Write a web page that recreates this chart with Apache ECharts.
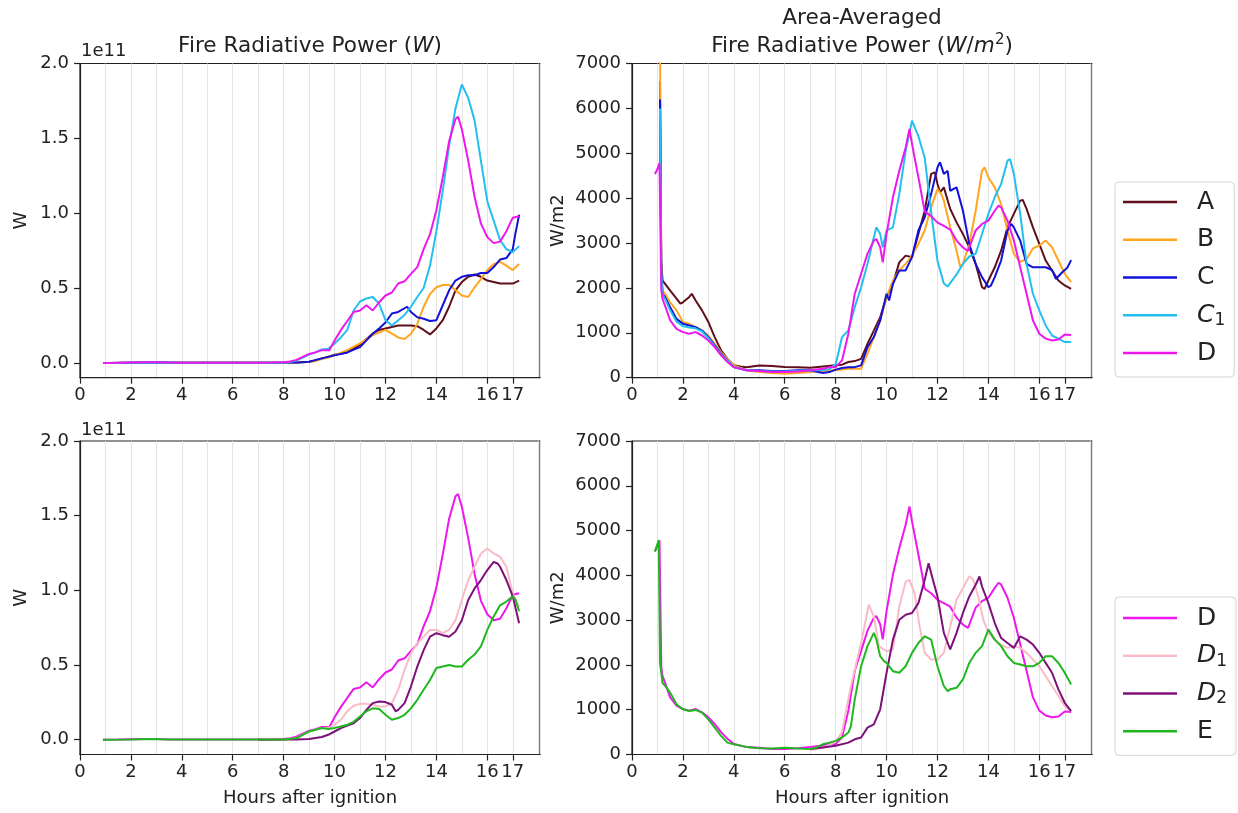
<!DOCTYPE html>
<html><head><meta charset="utf-8">
<script src="https://cdn.jsdelivr.net/npm/echarts@6/dist/echarts.min.js"></script>
<style>html,body{margin:0;padding:0;background:#fff}#c{width:1238px;height:813px}</style>
</head><body><div id="c"></div>
<script>
// ---------- data: [hours after ignition, value] ----------
const xTicks = [0, 2, 4, 6, 8, 10, 12, 14, 16, 17];
const yTicksW = [0, 0.5, 1, 1.5, 2];   // in units of 1e11 W
const topLegend = ['A', 'B', 'C', 'C1', 'D'];
const bottomLegend = ['D', 'D1', 'D2', 'E'];

// Fire Radiative Power (1e11 W)
const A_W = [[1.1,0],[2,0.001],[3,0.002],[4,0.001],[5,0.001],[6,0.001],[7,0.001],[8,0.002],[8.5,0.003],[8.75,0.005],[9,0.008],[9.25,0.015],[9.5,0.03],[9.75,0.04],[10,0.055],[10.5,0.07],[11,0.12],[11.25,0.16],[11.5,0.195],[11.75,0.22],[12,0.23],[12.25,0.24],[12.5,0.25],[13,0.25],[13.25,0.245],[13.5,0.22],[13.75,0.19],[14,0.23],[14.25,0.285],[14.5,0.375],[14.75,0.485],[15,0.54],[15.25,0.575],[15.5,0.59],[15.75,0.575],[16,0.55],[16.25,0.54],[16.5,0.53],[16.75,0.53],[17,0.53],[17.25,0.55]];
const B_W = [[1.1,0],[2,0.001],[3,0.002],[4,0.001],[5,0.001],[6,0.001],[7,0.001],[8,0.002],[8.5,0.003],[9,0.006],[9.25,0.012],[9.5,0.025],[9.75,0.035],[10,0.05],[10.5,0.085],[11,0.13],[11.5,0.185],[12,0.22],[12.25,0.195],[12.5,0.17],[12.75,0.16],[13,0.195],[13.25,0.26],[13.5,0.375],[13.75,0.46],[14,0.505],[14.25,0.52],[14.5,0.52],[14.75,0.485],[15,0.45],[15.25,0.44],[15.5,0.505],[15.75,0.56],[16,0.62],[16.25,0.66],[16.5,0.675],[16.75,0.65],[17,0.62],[17.25,0.66]];
const C_W = [[1.1,0],[2,0.001],[3,0.002],[4,0.001],[5,0.001],[6,0.001],[7,0.001],[8,0.002],[8.5,0.003],[9,0.007],[9.5,0.03],[10,0.05],[10.5,0.07],[11,0.105],[11.25,0.15],[11.5,0.195],[11.75,0.23],[12,0.27],[12.25,0.33],[12.5,0.34],[12.85,0.375],[13,0.34],[13.25,0.305],[13.5,0.295],[13.75,0.28],[14,0.285],[14.25,0.385],[14.5,0.485],[14.75,0.55],[15,0.575],[15.25,0.585],[15.5,0.585],[15.75,0.6],[16,0.6],[16.25,0.64],[16.5,0.69],[16.75,0.7],[17,0.76],[17.1,0.86],[17.25,0.99]];
const C1_W = [[1.1,0],[2,0.001],[3,0.002],[4,0.001],[5,0.001],[6,0.001],[7,0.001],[8,0.003],[8.25,0.005],[8.5,0.015],[8.75,0.035],[9,0.055],[9.25,0.07],[9.5,0.09],[9.75,0.095],[10,0.13],[10.25,0.17],[10.5,0.22],[10.75,0.35],[11,0.41],[11.25,0.43],[11.5,0.44],[11.75,0.395],[12,0.285],[12.25,0.25],[12.5,0.285],[12.75,0.32],[13,0.375],[13.25,0.44],[13.5,0.5],[13.75,0.65],[14,0.88],[14.25,1.15],[14.5,1.45],[14.75,1.7],[15,1.86],[15.25,1.77],[15.5,1.62],[15.75,1.35],[16,1.08],[16.25,0.95],[16.5,0.82],[16.75,0.76],[17,0.74],[17.25,0.78]];
const D_W = [[0.9,0],[1.5,0.001],[2.5,0.004],[3,0.004],[3.5,0.002],[4,0.001],[5,0.001],[6,0.001],[7,0.001],[7.5,0.002],[8,0.005],[8.25,0.01],[8.5,0.02],[8.75,0.04],[9,0.06],[9.25,0.07],[9.5,0.085],[9.8,0.085],[10,0.15],[10.25,0.22],[10.5,0.28],[10.75,0.34],[11,0.35],[11.25,0.385],[11.5,0.35],[11.75,0.405],[12,0.45],[12.25,0.47],[12.5,0.53],[12.75,0.545],[13,0.595],[13.25,0.64],[13.5,0.76],[13.75,0.86],[14,1.02],[14.25,1.24],[14.5,1.48],[14.75,1.63],[14.85,1.645],[15,1.56],[15.25,1.35],[15.5,1.11],[15.75,0.93],[16,0.84],[16.25,0.8],[16.5,0.81],[16.75,0.88],[17,0.97],[17.25,0.98]];
const D1_W = [[7,0],[8,0.002],[8.5,0.01],[9,0.055],[9.25,0.067],[9.5,0.078],[9.75,0.078],[10,0.1],[10.25,0.134],[10.5,0.19],[10.75,0.227],[11,0.24],[11.25,0.24],[11.5,0.234],[11.75,0.223],[12,0.223],[12.25,0.245],[12.5,0.334],[12.75,0.468],[13,0.579],[13.25,0.646],[13.5,0.69],[13.75,0.735],[14,0.735],[14.25,0.713],[14.5,0.735],[14.75,0.8],[15,0.935],[15.25,1.069],[15.5,1.158],[15.75,1.247],[16,1.28],[16.25,1.247],[16.5,1.225],[16.75,1.158],[17,0.98],[17.25,0.89]];
const D2_W = [[7,0],[8,0.001],[8.5,0.002],[9,0.005],[9.5,0.018],[9.75,0.033],[10,0.055],[10.25,0.078],[10.5,0.094],[10.75,0.11],[11,0.145],[11.25,0.2],[11.5,0.245],[11.75,0.256],[12,0.252],[12.25,0.234],[12.4,0.19],[12.5,0.2],[12.75,0.245],[13,0.356],[13.25,0.49],[13.5,0.6],[13.75,0.69],[14,0.713],[14.25,0.7],[14.5,0.69],[14.75,0.724],[15,0.8],[15.25,0.935],[15.5,1.013],[15.75,1.069],[16,1.136],[16.25,1.19],[16.4,1.18],[16.5,1.158],[16.75,1.069],[17,0.96],[17.25,0.78]];
const E_W = [[0.9,0],[2,0.002],[2.75,0.004],[3.5,0.002],[4,0.001],[5,0.001],[6,0.001],[7,0.001],[8,0.002],[8.5,0.01],[8.75,0.033],[9,0.055],[9.25,0.067],[9.5,0.078],[9.75,0.071],[10,0.078],[10.25,0.089],[10.5,0.1],[10.75,0.12],[11,0.155],[11.25,0.19],[11.5,0.21],[11.75,0.205],[12,0.167],[12.25,0.134],[12.5,0.145],[12.75,0.167],[13,0.21],[13.25,0.267],[13.5,0.334],[13.75,0.4],[14,0.48],[14.25,0.49],[14.5,0.5],[14.75,0.49],[15,0.49],[15.25,0.535],[15.5,0.57],[15.75,0.625],[16,0.735],[16.25,0.825],[16.5,0.9],[16.75,0.925],[17,0.96],[17.1,0.94],[17.25,0.86]];

// Area-averaged Fire Radiative Power (W/m2)
const A_M = [[1.1,6600],[1.15,2600],[1.2,2165],[1.3,2090],[1.5,1940],[1.75,1760],[1.9,1650],[2,1680],[2.25,1800],[2.35,1870],[2.5,1720],[2.75,1500],[3,1240],[3.25,905],[3.5,610],[3.75,420],[4,275],[4.25,250],[4.5,235],[5,270],[5.5,260],[6,240],[6.5,235],[7,220],[7.5,250],[8,275],[8.25,290],[8.5,350],[8.75,370],[9,420],[9.25,755],[9.5,1050],[9.75,1350],[10,1795],[10.25,2090],[10.5,2570],[10.75,2720],[11,2685],[11.25,3200],[11.5,3720],[11.75,4540],[11.9,4575],[12,4315],[12.1,4130],[12.25,4240],[12.5,3760],[12.75,3460],[13,3200],[13.25,2905],[13.5,2535],[13.75,2015],[13.85,1980],[14,2165],[14.25,2460],[14.5,2830],[14.75,3350],[15,3650],[15.25,3945],[15.35,3960],[15.5,3760],[15.75,3350],[16,2980],[16.25,2610],[16.5,2390],[16.75,2165],[17,2055],[17.25,1980]];
const B_M = [[1.1,7400],[1.15,2500],[1.2,1940],[1.3,1870],[1.5,1680],[1.75,1500],[2,1240],[2.25,1200],[2.5,1125],[2.75,1050],[3,940],[3.25,755],[3.5,570],[3.75,420],[4,275],[4.5,165],[5,125],[5.5,105],[6,90],[6.5,105],[7,125],[7.5,150],[8,165],[8.5,200],[9,200],[9.25,535],[9.5,905],[9.75,1275],[10,1795],[10.25,2165],[10.5,2390],[10.75,2535],[11,2720],[11.25,2980],[11.5,3280],[11.75,3795],[12,4200],[12.15,4090],[12.25,3945],[12.5,3350],[12.75,2830],[12.9,2460],[13,2535],[13.25,2980],[13.5,3720],[13.75,4610],[13.85,4685],[14,4460],[14.25,4240],[14.5,3870],[14.75,3280],[15,2760],[15.25,2580],[15.5,2645],[15.75,2880],[16,2945],[16.25,3055],[16.5,2905],[16.75,2610],[17,2315],[17.25,2130]];
const C_M = [[1.1,6200],[1.15,2400],[1.2,1870],[1.3,1795],[1.5,1570],[1.75,1310],[2,1200],[2.25,1165],[2.5,1125],[2.75,1050],[3,905],[3.25,720],[3.5,535],[3.75,385],[4,235],[4.5,165],[5,165],[5.5,150],[6,150],[6.5,165],[7,165],[7.5,105],[7.75,125],[8,180],[8.25,215],[8.5,235],[8.75,235],[9,275],[9.25,680],[9.5,905],[9.75,1275],[10,1870],[10.1,1720],[10.25,2090],[10.5,2390],[10.75,2390],[11,2685],[11.25,3280],[11.5,3575],[11.75,4090],[12,4685],[12.1,4800],[12.25,4540],[12.4,4610],[12.5,4165],[12.75,4240],[13,3720],[13.25,2980],[13.5,2535],[13.75,2240],[14,2015],[14.1,2055],[14.25,2240],[14.5,2610],[14.75,3280],[14.9,3425],[15,3350],[15.25,3055],[15.5,2535],[15.75,2460],[16,2460],[16.25,2460],[16.5,2400],[16.65,2200],[16.9,2350],[17.1,2450],[17.25,2620]];
const C1_M = [[1.1,6000],[1.15,2300],[1.2,1850],[1.3,1750],[1.5,1500],[1.75,1250],[2,1150],[2.25,1120],[2.5,1100],[2.75,1030],[3,880],[3.25,700],[3.5,520],[3.75,380],[4,240],[4.5,170],[5,150],[5.5,140],[6,140],[6.5,150],[7,160],[7.5,170],[7.75,190],[8,300],[8.1,535],[8.25,905],[8.5,1050],[8.75,1570],[9,2015],[9.25,2535],[9.5,3130],[9.6,3350],[9.75,3200],[9.85,2905],[10,3280],[10.25,3350],[10.5,4090],[10.75,5055],[11,5725],[11.05,5760],[11.25,5380],[11.5,4900],[11.75,3700],[12,2600],[12.25,2100],[12.4,2030],[12.75,2300],[13,2535],[13.25,2700],[13.5,2760],[13.75,3200],[14,3650],[14.25,4020],[14.5,4315],[14.75,4835],[14.85,4870],[15,4540],[15.25,3650],[15.5,2535],[15.75,1870],[16,1500],[16.25,1165],[16.5,940],[16.75,870],[17,795],[17.25,795]];
const D_M = [[0.9,4540],[1.0,4650],[1.08,4780],[1.15,1950],[1.2,1750],[1.3,1600],[1.5,1275],[1.75,1090],[2,1015],[2.25,980],[2.5,1015],[2.75,940],[3,830],[3.25,680],[3.5,500],[3.75,350],[4,235],[4.5,165],[5,150],[5.5,125],[6,125],[6.5,140],[7,165],[7.5,200],[7.75,235],[8,235],[8.25,385],[8.5,980],[8.75,1870],[9,2315],[9.25,2760],[9.5,3055],[9.6,3090],[9.75,2905],[9.85,2570],[10,3200],[10.25,4020],[10.5,4610],[10.75,5130],[10.9,5540],[11,5205],[11.25,4465],[11.5,3700],[11.75,3600],[12,3455],[12.25,3380],[12.5,3300],[12.75,3055],[13,2900],[13.2,2825],[13.5,3280],[13.75,3425],[14,3500],[14.25,3720],[14.4,3835],[14.5,3795],[14.75,3500],[15,3055],[15.25,2460],[15.5,1870],[15.75,1275],[16,980],[16.25,870],[16.5,830],[16.75,850],[17,960],[17.25,950]];
const D1_M = [[7,100],[7.5,150],[8,280],[8.25,500],[8.6,1530],[9,2490],[9.3,3345],[9.5,3085],[9.7,2420],[10,2305],[10.25,2345],[10.5,3300],[10.75,3860],[10.9,3900],[11.1,3600],[11.3,2860],[11.5,2270],[11.75,2120],[12,2120],[12.25,2270],[12.5,2860],[12.75,3455],[13,3715],[13.25,3980],[13.4,3900],[13.6,3530],[13.8,3010],[14,2715],[14.25,2565],[14.5,2455],[14.75,2380],[15,2420],[15.25,2380],[15.5,2270],[15.75,2120],[16,1970],[16.25,1750],[16.5,1530],[16.75,1305],[17,1080],[17.25,970]];
const D2_M = [[7,120],[7.5,155],[8,195],[8.5,265],[8.75,340],[9,380],[9.25,600],[9.5,675],[9.75,1010],[10,1825],[10.25,2565],[10.5,3010],[10.75,3120],[11,3160],[11.25,3380],[11.5,3900],[11.65,4270],[11.75,4050],[12,3530],[12.25,2715],[12.5,2345],[12.75,2715],[13,3160],[13.25,3530],[13.5,3790],[13.65,3975],[13.75,3750],[14,3380],[14.25,2935],[14.5,2600],[14.75,2490],[15,2380],[15.25,2640],[15.5,2565],[15.75,2455],[16,2270],[16.25,2045],[16.5,1825],[16.75,1455],[17,1155],[17.25,970]];
const E_M = [[0.9,4530],[1.05,4790],[1.1,2045],[1.15,1825],[1.2,1600],[1.3,1530],[1.5,1380],[1.75,1120],[2,1010],[2.25,970],[2.5,995],[2.75,935],[3,785],[3.25,600],[3.5,415],[3.75,265],[4,230],[4.5,170],[5,140],[5.5,133],[6,150],[6.5,133],[7,120],[7.25,155],[7.5,230],[7.75,265],[8,305],[8.25,380],[8.5,490],[8.6,640],[8.75,1230],[9,1970],[9.25,2420],[9.5,2715],[9.6,2565],[9.75,2195],[9.9,2085],[10,2045],[10.25,1860],[10.5,1825],[10.75,1970],[11,2270],[11.25,2490],[11.5,2640],[11.75,2565],[12,1970],[12.25,1530],[12.4,1415],[12.5,1455],[12.75,1490],[13,1675],[13.25,2045],[13.5,2270],[13.75,2420],[14,2790],[14.25,2565],[14.5,2420],[14.75,2195],[15,2045],[15.25,2010],[15.5,1970],[15.75,1970],[16,2045],[16.25,2195],[16.5,2195],[16.75,2045],[17,1825],[17.25,1565]];

// ---------- styling ----------
const colors = {A:'#5f0f1a', B:'#ffa51f', C:'#1111d9', C1:'#22bff0', D:'#ee18ee', D1:'#f9bcc6', D2:'#7d1079', E:'#1fb81f'};
const FONT = 'DejaVu Sans';
const INK = '#222';
const XMAX = 18.07;
const grids = [
  {left: 80, top: 63.5, width: 460, height: 314.2},
  {left: 632, top: 63.5, width: 460, height: 314.2},
  {left: 80, top: 441, width: 460, height: 313.5},
  {left: 632, top: 441, width: 460, height: 313.5}
];

function xMain(gi) {
  return {
    type: 'value', gridIndex: gi, min: 0, max: XMAX,
    axisLine: {show: true, onZero: false, lineStyle: {color: INK, width: 1.2}},
    axisTick: {show: true, customValues: xTicks, length: 6, lineStyle: {color: INK, width: 1.2}},
    axisLabel: {customValues: xTicks, margin: 9, color: INK, fontSize: 18, fontFamily: FONT},
    splitLine: {show: false},
    name: gi >= 2 ? 'Hours after ignition' : '', nameLocation: 'middle', nameGap: 35,
    nameTextStyle: {color: INK, fontSize: 18, fontFamily: FONT}
  };
}
function xGridLines(gi) {
  return {
    type: 'value', gridIndex: gi, min: 0, max: XMAX, interval: 1, position: 'bottom',
    axisLine: {show: false}, axisTick: {show: false}, axisLabel: {show: false},
    splitLine: {show: true, lineStyle: {color: '#e4e4e4', width: 1}}
  };
}
function yW(gi) {
  return {
    type: 'value', gridIndex: gi, min: -0.099, max: 2.0,
    axisLine: {show: true, onZero: false, lineStyle: {color: INK, width: 1.2}},
    axisTick: {show: true, customValues: yTicksW, length: 6, lineStyle: {color: INK, width: 1.2}},
    axisLabel: {customValues: yTicksW, margin: 11, color: INK, fontSize: 18, fontFamily: FONT, formatter: v => v.toFixed(1)},
    splitLine: {show: false},
    name: 'W', nameLocation: 'middle', nameGap: 50,
    nameTextStyle: {color: INK, fontSize: 18, fontFamily: FONT}
  };
}
function yM(gi) {
  return {
    type: 'value', gridIndex: gi, min: 0, max: 7000, interval: 1000,
    axisLine: {show: true, lineStyle: {color: INK, width: 1.2}},
    axisTick: {show: true, length: 6, lineStyle: {color: INK, width: 1.2}},
    axisLabel: {margin: 11, color: INK, fontSize: 18, fontFamily: FONT, formatter: v => String(Math.round(v))},
    splitLine: {show: false},
    name: 'W/m2', nameLocation: 'middle', nameGap: 65,
    nameTextStyle: {color: INK, fontSize: 18, fontFamily: FONT}
  };
}
function line(name, data, idx) {
  return {
    name, type: 'line', data, xAxisIndex: idx, yAxisIndex: idx,
    showSymbol: false, symbol: 'none', clip: true, animation: false,
    lineStyle: {width: 2, color: colors[name]}, itemStyle: {color: colors[name]},
    emphasis: {disabled: true}
  };
}
const legendRich = {
  n: {fontSize: 25, fontFamily: FONT, color: INK, lineHeight: 28},
  i: {fontSize: 25, fontFamily: FONT, fontStyle: 'italic', color: INK, lineHeight: 28},
  s: {fontSize: 17, fontFamily: FONT, color: INK, lineHeight: 16, verticalAlign: 'bottom'}
};
function legendFmt(name) {
  if (name.length === 2) return '{i|' + name[0] + '}{s|' + name[1] + '}';
  return '{n|' + name + '}';
}
function legend(data, top, pad) {
  return {
    orient: 'vertical', left: 1115, top, data, icon: 'rect', itemWidth: 54, itemHeight: 2.5,
    itemGap: 9.75, padding: pad, borderColor: '#d4d4d4', borderWidth: 1, borderRadius: 4,
    backgroundColor: '#fff', selectedMode: false, formatter: legendFmt,
    textStyle: {fontSize: 25, fontFamily: FONT, color: INK, lineHeight: 28, padding: [0, 0, 0, 15], rich: legendRich}
  };
}
const titleRich = {
  n: {fontSize: 21.6, fontFamily: FONT, fill: INK, lineHeight: 26},
  i: {fontSize: 21.6, fontFamily: FONT, fontStyle: 'italic', fill: INK, lineHeight: 26},
  sup: {fontSize: 15, fontFamily: FONT, fill: INK, lineHeight: 14, verticalAlign: 'top'}
};

const option = {
  backgroundColor: '#fff',
  animation: false,
  grid: grids.map(g => Object.assign({show: true, borderColor: INK, borderWidth: 1.2, backgroundColor: 'transparent'}, g)),
  xAxis: [xMain(0), xMain(1), xMain(2), xMain(3), xGridLines(0), xGridLines(1), xGridLines(2), xGridLines(3)],
  yAxis: [yW(0), yM(1), yW(2), yM(3)],
  legend: [legend(topLegend, 182, [6, 9, 10, 8]), legend(bottomLegend, 597, [7, 9, 10, 8])],
  series: [
    line('A', A_W, 0), line('B', B_W, 0), line('C', C_W, 0), line('C1', C1_W, 0), line('D', D_W, 0),
    line('A', A_M, 1), line('B', B_M, 1), line('C', C_M, 1), line('C1', C1_M, 1), line('D', D_M, 1),
    line('D', D_W, 2), line('D1', D1_W, 2), line('D2', D2_W, 2), line('E', E_W, 2),
    line('D', D_M, 3), line('D1', D1_M, 3), line('D2', D2_M, 3), line('E', E_M, 3)
  ],
  graphic: [
    {type: 'text', x: 310, y: 46, style: {text: '{n|Fire Radiative Power (}{i|W}{n|)}', align: 'center', verticalAlign: 'middle', rich: titleRich}},
    {type: 'text', x: 862, y: 18, style: {text: '{n|Area-Averaged}', align: 'center', verticalAlign: 'middle', rich: titleRich}},
    {type: 'text', x: 862, y: 46, style: {text: '{n|Fire Radiative Power (}{i|W}{n|/}{i|m}{sup|2}{n|)}', align: 'center', verticalAlign: 'middle', rich: titleRich}},
    {type: 'text', x: 81, y: 51, style: {text: '1e11', fill: INK, font: '18px "DejaVu Sans"', align: 'left', verticalAlign: 'middle'}},
    {type: 'text', x: 81, y: 430, style: {text: '1e11', fill: INK, font: '18px "DejaVu Sans"', align: 'left', verticalAlign: 'middle'}}
  ]
};
const chart = echarts.init(document.getElementById('c'), null, {renderer: 'canvas'});
chart.setOption(option);
</script>
</body></html>
